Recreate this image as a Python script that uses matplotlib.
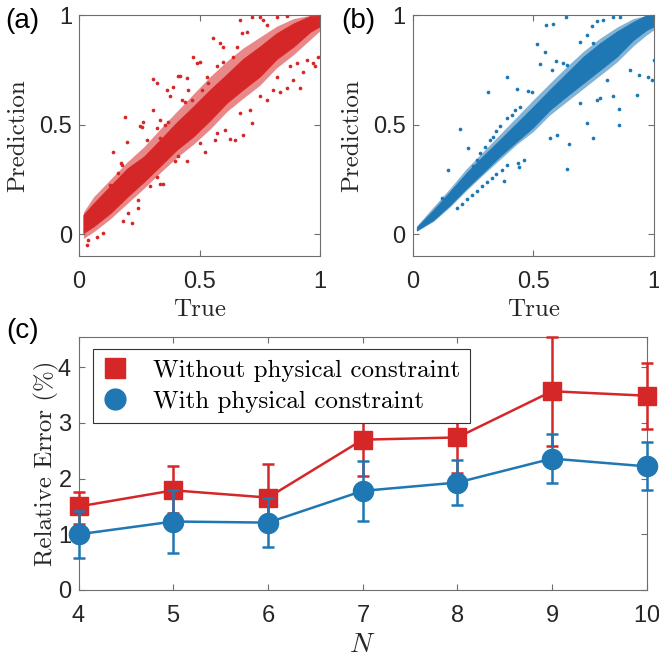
import matplotlib
matplotlib.use("Agg")
import matplotlib.pyplot as plt
from matplotlib.lines import Line2D
import numpy as np

plt.rcParams["axes.formatter.use_mathtext"] = True
plt.rcParams["mathtext.fontset"] = "cm"

RED = "#d62728"
BLUE = "#1f77b4"
SPINE = "#6e6e6e"
SANS = "Liberation Sans"
SERIF = "cmr10"

# ---------------- (a) without physical constraint ----------------
a_band_true = [0.018, 0.06, 0.13, 0.20, 0.27, 0.336, 0.405, 0.474, 0.544, 0.613,
               0.68, 0.75, 0.82, 0.89, 0.96, 1.0]
a_band_upper = [0.088, 0.14, 0.22, 0.30, 0.355, 0.43, 0.51, 0.583, 0.66, 0.73,
                0.80, 0.857, 0.918, 0.963, 0.997, 1.0]
a_band_lower = [0.005, 0.035, 0.096, 0.17, 0.24, 0.31, 0.385, 0.446, 0.52, 0.60,
                0.66, 0.72, 0.80, 0.857, 0.925, 0.95]
a_halo_upper = [0.10, 0.17, 0.25, 0.33, 0.40, 0.48, 0.56, 0.64, 0.72, 0.79,
                0.85, 0.90, 0.95, 0.985, 1.0, 1.0]
a_halo_lower = [-0.02, 0.01, 0.07, 0.14, 0.21, 0.28, 0.35, 0.41, 0.48, 0.56,
                0.62, 0.68, 0.76, 0.82, 0.89, 0.93]
a_pts_true = [0.308, 0.322, 0.191, 0.142, 0.198, 0.253, 0.264, 0.260, 0.284, 0.308,
              0.322, 0.336, 0.364, 0.378, 0.391, 0.412, 0.419, 0.447, 0.454, 0.474,
              0.488, 0.502, 0.530, 0.557, 0.585, 0.599, 0.668, 0.675, 0.696, 0.716,
              0.751, 0.765, 0.779, 0.820, 0.862, 0.174, 0.177, 0.163, 0.156, 0.129,
              0.101, 0.336, 0.357, 0.371, 0.426, 0.440, 0.467, 0.509, 0.537, 0.571,
              0.599, 0.640, 0.654,
              0.184, 0.218, 0.205, 0.246, 0.246, 0.336, 0.350, 0.447, 0.523, 0.564,
              0.606, 0.627, 0.647, 0.682, 0.716, 0.751, 0.779, 0.806, 0.834, 0.862,
              0.917, 0.889, 0.931, 0.979, 0.993, 0.972, 0.945, 0.101, 0.073, 0.032,
              0.039, 0.295, 0.322, 0.398, 0.412, 0.502, 0.571, 0.668, 0.710, 0.820,
              0.876, 0.903]
a_pts_pred = [0.708, 0.689, 0.537, 0.374, 0.419, 0.492, 0.514, 0.489, 0.431, 0.568,
              0.484, 0.522, 0.659, 0.629, 0.674, 0.723, 0.724, 0.712, 0.659, 0.811,
              0.781, 0.788, 0.720, 0.895, 0.872, 0.857, 0.979, 0.918, 0.925, 0.994,
              0.991, 0.979, 0.956, 0.994, 0.998, 0.324, 0.317, 0.279, 0.240, 0.225,
              0.172, 0.438, 0.499, 0.514, 0.613, 0.606, 0.613, 0.659, 0.689, 0.766,
              0.788, 0.811, 0.857,
              0.058, 0.050, 0.096, 0.157, 0.119, 0.230, 0.230, 0.332, 0.377, 0.431,
              0.476, 0.434, 0.431, 0.454, 0.507, 0.629, 0.613, 0.659, 0.651, 0.667,
              0.667, 0.705, 0.743, 0.766, 0.808, 0.784, 0.796, 0.005, -0.011, -0.049,
              -0.026, 0.218, 0.263, 0.332, 0.355, 0.416, 0.461, 0.552, 0.568, 0.720,
              0.766, 0.781]

# ---------------- (b) with physical constraint ----------------
b_band_true = [0.017, 0.086, 0.155, 0.223, 0.29, 0.36, 0.43, 0.50, 0.568, 0.637,
               0.706, 0.775, 0.844, 0.913, 0.968, 1.0]
b_band_upper = [0.032, 0.11, 0.195, 0.28, 0.355, 0.43, 0.507, 0.583, 0.66, 0.735,
                0.81, 0.872, 0.925, 0.97, 1.0, 1.0]
b_band_lower = [0.017, 0.065, 0.134, 0.21, 0.28, 0.355, 0.423, 0.49, 0.568, 0.63,
                0.69, 0.75, 0.81, 0.887, 0.933, 0.95]
b_halo_upper = [0.038, 0.125, 0.21, 0.30, 0.375, 0.455, 0.535, 0.615, 0.69, 0.765,
                0.835, 0.895, 0.945, 0.985, 1.0, 1.0]
b_halo_lower = [0.014, 0.058, 0.125, 0.20, 0.27, 0.34, 0.41, 0.47, 0.545, 0.605,
                0.665, 0.725, 0.785, 0.86, 0.91, 0.935]
b_pts_true = [0.182, 0.203, 0.223, 0.244, 0.265, 0.285, 0.306, 0.327, 0.347, 0.368,
              0.389,
              0.310, 0.392, 0.196, 0.230, 0.145, 0.120, 0.430, 0.478, 0.492, 0.513,
              0.547, 0.550, 0.579, 0.634, 0.527, 0.593, 0.621, 0.637, 0.575, 0.720,
              0.741, 0.761, 0.789, 0.830, 0.858, 0.747, 0.692, 0.437, 0.461, 0.440,
              0.378, 0.640, 0.648, 0.598, 0.568, 0.720, 0.747, 0.855, 0.854, 0.927,
              0.975, 0.989, 0.998, 0.938, 0.899, 0.830, 0.775, 0.761, 0.692, 0.803,
              0.361, 0.389, 0.410, 0.423, 0.444, 0.347, 0.334, 0.320, 0.299, 0.279,
              0.265, 0.251]
b_pts_pred = [0.119, 0.139, 0.160, 0.180, 0.199, 0.218, 0.236, 0.256, 0.275, 0.294,
              0.314,
              0.651, 0.717, 0.479, 0.393, 0.291, 0.164, 0.662, 0.656, 0.651, 0.868,
              0.834, 0.956, 0.960, 0.994, 0.776, 0.791, 0.784, 0.773, 0.750, 0.910,
              0.951, 0.976, 0.979, 0.994, 0.994, 0.872, 0.880, 0.324, 0.339, 0.306,
              0.244, 0.297, 0.411, 0.454, 0.438, 0.510, 0.441, 0.571, 0.499, 0.636,
              0.717, 0.705, 0.796, 0.728, 0.750, 0.629, 0.621, 0.613, 0.598, 0.705,
              0.492, 0.530, 0.545, 0.568, 0.583, 0.469, 0.446, 0.431, 0.400, 0.370,
              0.339, 0.309]

# ---------------- (c) relative error vs N ----------------
N = [4, 5, 6, 7, 8, 9, 10]
err_without = [1.50, 1.79, 1.66, 2.70, 2.74, 3.57, 3.49]
err_without_lo = [1.19, 1.39, 1.07, 2.05, 2.10, 2.59, 2.89]
err_without_hi = [1.76, 2.22, 2.26, 3.33, 3.38, 4.55, 4.07]
err_with = [1.00, 1.23, 1.21, 1.78, 1.93, 2.36, 2.22]
err_with_lo = [0.58, 0.67, 0.77, 1.24, 1.53, 1.93, 1.80]
err_with_hi = [1.42, 1.79, 1.65, 2.31, 2.33, 2.80, 2.65]

fig = plt.figure(figsize=(6.59, 6.62), dpi=100)


def style_axes(ax):
    for s in ax.spines.values():
        s.set_color(SPINE)
        s.set_linewidth(0.8)
    ax.tick_params(direction="in", top=True, right=True, length=4, width=0.8,
                   color=SPINE, labelsize=17)
    ax.tick_params(axis="x", pad=11)
    ax.tick_params(axis="y", pad=5)
    for lab in ax.get_xticklabels() + ax.get_yticklabels():
        lab.set_fontfamily(SANS)
        lab.set_color("#262626")


def scatter_panel(rect, band_x, band_lo, band_hi, halo_lo, halo_hi, px, py, color):
    ax = fig.add_axes(rect)
    # sparser rim of the point cloud, then its dense core
    ax.fill_between(band_x, halo_lo, halo_hi, color=color, alpha=0.55,
                    linewidth=0, zorder=1)
    ax.fill_between(band_x, band_lo, band_hi, color=color, linewidth=0.6,
                    edgecolor=color, zorder=2)
    ax.scatter(px, py, s=7, color=color, linewidths=0, zorder=3)
    ax.set_xlim(0, 1)
    ax.set_ylim(-0.1, 1)
    ax.set_xticks([0, 0.5, 1])
    ax.set_xticklabels(["0", "0.5", "1"])
    ax.set_yticks([0, 0.5, 1])
    ax.set_yticklabels(["0", "0.5", "1"])
    style_axes(ax)
    ax.set_xlabel("True", fontfamily=SERIF, fontsize=18, labelpad=4, color="#262626")
    ax.set_ylabel("Prediction", fontfamily=SERIF, fontsize=18, labelpad=7,
                  color="#262626")
    return ax


ax_a = scatter_panel([0.1199, 0.6133, 0.3657, 0.3636], a_band_true, a_band_lower,
                     a_band_upper, a_halo_lower, a_halo_upper,
                     a_pts_true, a_pts_pred, RED)
ax_b = scatter_panel([0.6262, 0.6133, 0.3666, 0.3636], b_band_true, b_band_lower,
                     b_band_upper, b_halo_lower, b_halo_upper,
                     b_pts_true, b_pts_pred, BLUE)

ax_c = fig.add_axes([0.1194, 0.1088, 0.8619, 0.3826])
ax_c.errorbar(N, err_without,
              yerr=[np.subtract(err_without, err_without_lo),
                    np.subtract(err_without_hi, err_without)],
              color=RED, marker="s", markersize=13, linewidth=1.8, elinewidth=1.8,
              capsize=4.5, capthick=1.8, zorder=3, clip_on=False)
ax_c.errorbar(N, err_with,
              yerr=[np.subtract(err_with, err_with_lo),
                    np.subtract(err_with_hi, err_with)],
              color=BLUE, marker="o", markersize=14.5, linewidth=1.8, elinewidth=1.8,
              capsize=4.5, capthick=1.8, zorder=4, clip_on=False)
ax_c.set_xlim(4, 10)
ax_c.set_ylim(0, 4.55)
ax_c.set_xticks(N)
ax_c.set_yticks([0, 1, 2, 3, 4])
style_axes(ax_c)
ax_c.set_xlabel("$N$", fontsize=20, labelpad=2, color="#262626")
ax_c.set_ylabel("Relative Error (%)", fontfamily=SERIF, fontsize=18, labelpad=-1,
                color="#262626")

handles = [Line2D([], [], color=RED, marker="s", markersize=14, linestyle="none"),
           Line2D([], [], color=BLUE, marker="o", markersize=15, linestyle="none")]
labels = ["Without physical constraint", "With physical constraint"]
leg = ax_c.legend(handles, labels, loc="upper left", bbox_to_anchor=(0.0246, 0.95),
                  frameon=True, fancybox=False, edgecolor="#333333", framealpha=1,
                  prop={"family": SERIF, "size": 18}, handlelength=1.0,
                  handletextpad=1.0, borderpad=0.4, labelspacing=0.35,
                  borderaxespad=0)
leg.get_frame().set_linewidth(0.8)

fig.text(0.008, 0.988, "(a)", fontfamily=SANS, fontsize=20, va="top", ha="left")
fig.text(0.518, 0.988, "(b)", fontfamily=SANS, fontsize=20, va="top", ha="left")
fig.text(0.010, 0.520, "(c)", fontfamily=SANS, fontsize=20, va="top", ha="left")

fig.savefig("out.png", dpi=100)
